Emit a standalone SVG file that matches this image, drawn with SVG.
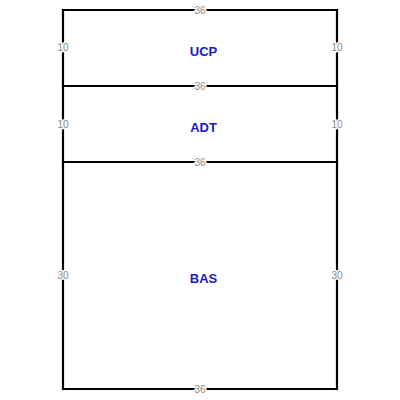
<svg xmlns="http://www.w3.org/2000/svg" width="400" height="400" viewBox="0 0 400 400">
<style>
.edge{stroke:#000;stroke-width:2.2;fill:none;stroke-linecap:square}
.dim{font-family:"Liberation Sans",Arial,sans-serif;font-size:10px;fill:#8a8a8a;text-anchor:middle;stroke:#fff;stroke-width:3;paint-order:stroke;stroke-linejoin:round}
.name{font-family:"Liberation Sans",Arial,sans-serif;font-size:13px;font-weight:bold;fill:#1a1acc;text-anchor:middle}
</style>
<rect width="400" height="400" fill="#fff"/>
<g id="connectors">
<path class="edge" d="M63 10H337V389H63Z"/>
<path class="edge" d="M63 86H337"/>
<path class="edge" d="M63 162H337"/>
</g>
<g id="UCP">
<text class="name" x="203.5" y="56">UCP</text>
<text class="dim" x="200" y="13.5">36</text>
<text class="dim" x="63" y="51">10</text>
<text class="dim" x="337" y="51">10</text>
</g>
<g id="ADT">
<text class="name" x="203.5" y="132">ADT</text>
<text class="dim" x="200" y="89.5">36</text>
<text class="dim" x="63" y="127.5">10</text>
<text class="dim" x="337" y="127.5">10</text>
</g>
<g id="BAS">
<text class="name" x="203.5" y="283">BAS</text>
<text class="dim" x="200" y="165.5">36</text>
<text class="dim" x="63" y="279">30</text>
<text class="dim" x="337" y="279">30</text>
<text class="dim" x="200" y="392.5">36</text>
</g>
</svg>
